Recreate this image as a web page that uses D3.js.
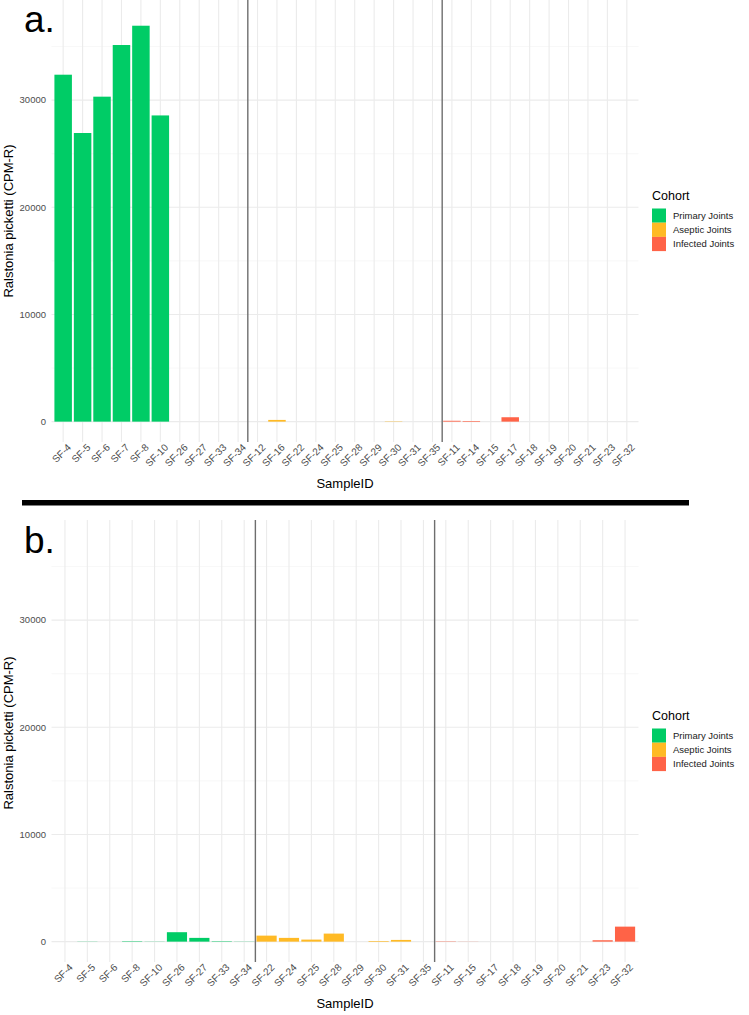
<!DOCTYPE html>
<html>
<head>
<meta charset="utf-8">
<script src="https://cdn.jsdelivr.net/npm/d3@7"></script>
<style>
  body { margin: 0; background: #fff; }
  text { font-family: "Liberation Sans", Arial, sans-serif; }
</style>
</head>
<body>
<script>
// ---- data ----
const cohorts = ["Primary Joints", "Aseptic Joints", "Infected Joints"];
const cohortColors = ["#00CC66", "#FFBA25", "#FF6347"];
const yTicks = [0, 10000, 20000, 30000];
const yMinor = [5000, 15000, 25000, 35000];

// panel a
const samplesA = ["SF-4", "SF-5", "SF-6", "SF-7", "SF-8", "SF-10", "SF-26", "SF-27", "SF-33", "SF-34",
    "SF-12", "SF-16", "SF-22", "SF-24", "SF-25", "SF-28", "SF-29", "SF-30", "SF-31", "SF-35",
    "SF-11", "SF-14", "SF-15", "SF-17", "SF-18", "SF-19", "SF-20", "SF-21", "SF-23", "SF-32"];
const valuesA = [32370, 26930, 30320, 35140, 36940, 28570, 0, 0, 0, 0,
    0, 160, 0, 0, 0, 0, 0, 30, 0, 0,
    80, 60, 0, 410, 0, 0, 0, 0, 0, 0];
const groupSizesA = [10, 10, 10];

// panel b
const samplesB = ["SF-4", "SF-5", "SF-6", "SF-8", "SF-10", "SF-26", "SF-27", "SF-33", "SF-34",
    "SF-22", "SF-24", "SF-25", "SF-28", "SF-29", "SF-30", "SF-31", "SF-35",
    "SF-11", "SF-15", "SF-17", "SF-18", "SF-19", "SF-20", "SF-21", "SF-23", "SF-32"];
const valuesB = [0, 15, 0, 40, 15, 880, 350, 40, 15,
    560, 350, 190, 750, 0, 60, 160, 0,
    30, 10, 0, 0, 0, 0, 0, 130, 1400];
const groupSizesB = [9, 8, 9];

const W = 749, H = 1015;
const svg = d3.select("body").append("svg")
    .attr("width", W)
    .attr("height", H);

const color = d3.scaleOrdinal().domain(cohorts).range(cohortColors);

function cohortOf(sizes) {
    const out = [];
    sizes.forEach((n, i) => { for (let k = 0; k < n; k++) out.push(cohorts[i]); });
    return out;
}

function drawPanel(top, samples, values, sizes, label, titleY) {
    const g = svg.append("g").attr("transform", `translate(0,${top})`);
    const left = 51.5, right = 638.5, bottom = 442;

    const x = d3.scaleBand()
        .domain(samples)
        .range([left, right])
        .paddingInner(0.1)
        .paddingOuter(0.15);

    const y = d3.scaleLinear()
        .domain([-1900, 39340])
        .range([bottom, 0]);

    const coh = cohortOf(sizes);

    // grid
    g.selectAll(".ymin").data(yMinor).enter().append("line")
        .attr("x1", left).attr("x2", right)
        .attr("y1", d => y(d)).attr("y2", d => y(d))
        .attr("stroke", "#f3f3f3").attr("stroke-width", 0.6);
    g.selectAll(".ymaj").data(yTicks).enter().append("line")
        .attr("x1", left).attr("x2", right)
        .attr("y1", d => y(d)).attr("y2", d => y(d))
        .attr("stroke", "#ebebeb").attr("stroke-width", 1.1);
    g.selectAll(".xmaj").data(samples).enter().append("line")
        .attr("x1", d => x(d) + x.bandwidth() / 2).attr("x2", d => x(d) + x.bandwidth() / 2)
        .attr("y1", 0).attr("y2", bottom)
        .attr("stroke", "#ebebeb").attr("stroke-width", 1.1);

    // bars
    g.selectAll(".bar").data(samples).enter().append("rect")
        .attr("x", d => x(d))
        .attr("width", x.bandwidth())
        .attr("y", (d, i) => y(values[i]))
        .attr("height", (d, i) => y(0) - y(values[i]))
        .attr("fill", (d, i) => color(coh[i]));

    // cohort dividers
    let idx = 0;
    sizes.slice(0, -1).forEach(n => {
        idx += n;
        const xv = (x(samples[idx - 1]) + x.bandwidth() + x(samples[idx])) / 2;
        g.append("line")
            .attr("x1", xv).attr("x2", xv)
            .attr("y1", 0).attr("y2", bottom)
            .attr("stroke", "#6e6e6e").attr("stroke-width", 1.4);
    });

    // y axis labels
    g.selectAll(".ylab").data(yTicks).enter().append("text")
        .attr("x", 46)
        .attr("y", d => y(d))
        .attr("dy", "0.35em")
        .attr("text-anchor", "end")
        .style("font-size", "9.5px")
        .attr("fill", "#4d4d4d")
        .text(d => d);

    // x axis labels
    g.selectAll(".xlab").data(samples).enter().append("text")
        .attr("transform", d => `translate(${x(d) + x.bandwidth() / 2 + 3.5},${bottom + 1}) rotate(-45)`)
        .attr("text-anchor", "end")
        .attr("dy", "0.71em")
        .style("font-size", "10px")
        .attr("fill", "#4d4d4d")
        .text(d => d);

    // axis titles
    g.append("text")
        .attr("x", (left + right) / 2)
        .attr("y", 488)
        .attr("text-anchor", "middle")
        .style("font-size", "13px")
        .text("SampleID");

    g.append("text")
        .attr("transform", `translate(12.5,${titleY}) rotate(-90)`)
        .attr("text-anchor", "middle")
        .style("font-size", "13px")
        .text("Ralstonia picketti (CPM-R)");

    // legend
    const lg = g.append("g").attr("transform", "translate(652,0)");
    lg.append("text")
        .attr("x", 0).attr("y", 199.5)
        .style("font-size", "12.5px")
        .text("Cohort");
    cohorts.forEach((c, i) => {
        lg.append("rect")
            .attr("x", 0).attr("y", 208.5 + i * 14.2)
            .attr("width", 14).attr("height", 14.2)
            .attr("fill", color(c));
        lg.append("text")
            .attr("x", 21).attr("y", 208.5 + i * 14.2 + 7.1)
            .attr("dy", "0.35em")
            .style("font-size", "9.5px")
            .attr("fill", "#1a1a1a")
            .text(c);
    });

    // panel tag
    g.append("text")
        .attr("x", 24).attr("y", label === "a." ? 32 : 33)
        .style("font-size", "37px")
        .text(label);
}

drawPanel(0, samplesA, valuesA, groupSizesA, "a.", 221);
drawPanel(520, samplesB, valuesB, groupSizesB, "b.", 213);

// separator bar between the panels
svg.append("rect")
    .attr("x", 22).attr("y", 500)
    .attr("width", 667).attr("height", 5.5)
    .attr("fill", "#000");
</script>
</body>
</html>
